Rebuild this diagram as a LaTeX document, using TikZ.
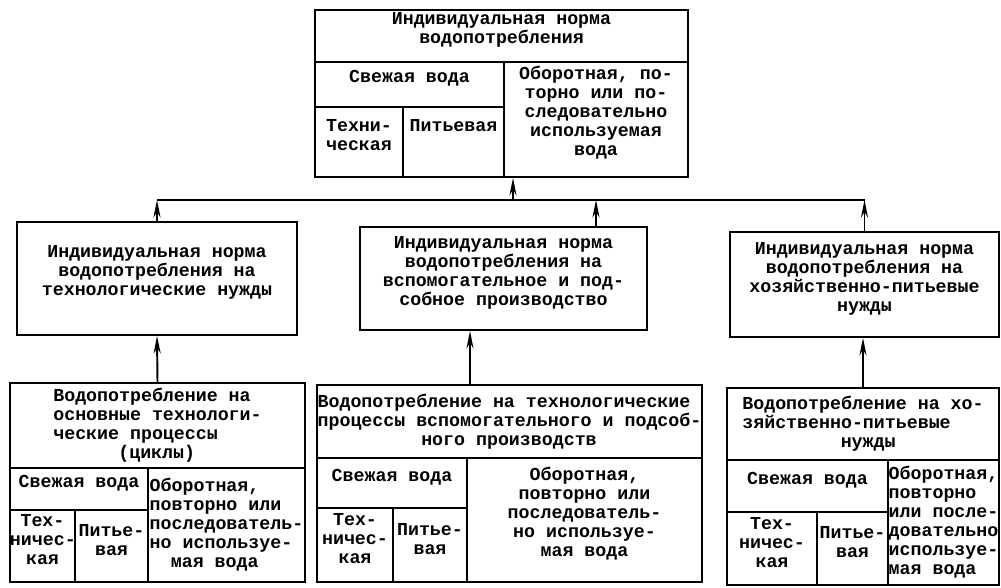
\documentclass[tikz,border=0pt]{standalone}
\usepackage{fontspec}
\setmonofont{Liberation Mono}
\usetikzlibrary{fit,arrows.meta}
\begin{document}
\begin{tikzpicture}[
  x=0.02cm, y=-0.02cm,
  line width=1.1pt,
  every node/.style={font=\ttfamily\bfseries\fontsize{10.4}{10.8}\selectfont},
  cell/.style={draw, inner sep=0pt, align=center},
  txt/.style={inner sep=0pt, align=left},
  arr/.style={-{Stealth[length=10pt,width=4pt]}}
  ]
\useasboundingbox (0,0) rectangle (1001,588);

% Root node
\node[cell, fit={(315,10)(688,62)}] (n1) {Индивидуальная норма\\водопотребления};
\node[cell, fit={(315,62)(504,107)}] (n1a) {Свежая вода};
\node[cell, fit={(315,107)(403,177)}] (n1b) {};
\node[cell, fit={(403,107)(504,177)}] (n1c) {};
\node[cell, fit={(504,62)(688,177)}] (n1d) {Оборотная, по-\\торно или по-\\следовательно\\используемая\\вода};
\node[anchor=north, align=center] (n1bt) at ([yshift=-4pt]n1b.north) {Техни-\\ческая};
\node[anchor=north, align=center] (n1ct) at ([yshift=-4pt]n1c.north) {Питьевая};

% Level 1
\node[cell, fit={(17,222)(297,335)}] (n2) {Индивидуальная норма\\водопотребления на\\технологические нужды};
\node[cell, fit={(360,227)(647,330)}] (n3) {Индивидуальная норма\\водопотребления на\\вспомогательное и под-\\собное производство};
\node[cell, fit={(730,232)(999,337)}] (n4) {Индивидуальная норма\\водопотребления на\\хозяйственно-питьевые\\нужды};

% Level 2
\node[cell, fit={(10,383)(305,468)}] (n5) {};
\node[txt] (n5t) at (n5.center) {Водопотребление на\\основные технологи-\\ческие процессы\\\hspace*{37pt}(циклы)};
\node[cell, fit={(10,468)(148,510)}] (n5a) {Свежая вода};
\node[cell, fit={(10,510)(75,582)}] (n5b) {Тех-\\ничес-\\кая};
\node[cell, fit={(75,510)(148,582)}] (n5c) {Питье-\\вая};
\node[cell, fit={(148,468)(305,582)}] (n5d) {};
\node[txt] (n5dt) at (n5d.center) {Оборотная,\\повторно или\\последователь-\\но используе-\\\hspace*{12pt}мая вода};

\node[cell, fit={(317,385)(702,458)}] (n6) {};
\node[txt] (n6t) at (n6.center) {Водопотребление на технологические\\процессы вспомогательного и подсоб-\\\hspace*{59pt}ного производств};
\node[cell, fit={(317,458)(467,508)}] (n6a) {Свежая вода};
\node[cell, fit={(317,508)(393,582)}] (n6b) {Тех-\\ничес-\\кая};
\node[cell, fit={(393,508)(467,582)}] (n6c) {Питье-\\вая};
\node[cell, fit={(467,458)(702,582)}] (n6d) {Оборотная,\\повторно или\\последователь-\\но используе-\\мая вода};

\node[cell, fit={(727,388)(999,460)}] (n7) {};
\node[txt] (n7t) at (n7.center) {Водопотребление на хо-\\зяйственно-питьевые\\\hspace*{56pt}нужды};
\node[cell, fit={(727,460)(888,512)}] (n7a) {Свежая вода};
\node[cell, fit={(727,512)(817,585)}] (n7b) {Тех-\\ничес-\\кая};
\node[cell, fit={(817,512)(888,585)}] (n7c) {Питье-\\вая};
\node[cell, fit={(888,460)(999,585)}] (n7d) {};
\node[txt] (n7dt) at (n7d.center) {Оборотная,\\повторно\\или после-\\довательно\\используе-\\мая вода};

% Connectors
\coordinate (bus) at (513,200);
\coordinate (m3) at (596,227);
\coordinate (m6) at (470,385);
\draw (n2.north |- bus) -- (n4.north |- bus);
\draw[arr] (bus) -- (bus |- n1d.south);
\draw[arr] (n2.north) -- (n2.north |- bus);
\draw[arr] (m3) -- (m3 |- bus);
\draw[arr] (n4.north) -- (n4.north |- bus);
\draw[arr] (n5.north) -- (n2.south);
\draw[arr] (m6) -- (m6 |- n3.south);
\draw[arr] (n7.north) -- (n7.north |- n4.south);

\end{tikzpicture}
\end{document}
